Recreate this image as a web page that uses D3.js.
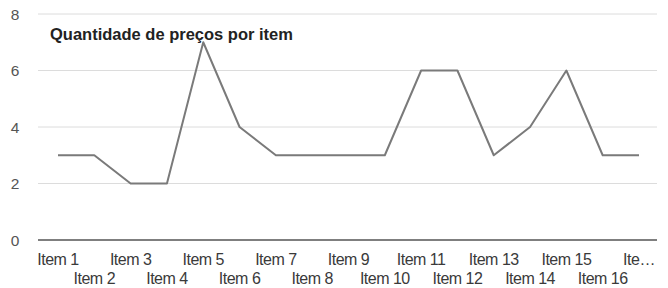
<!DOCTYPE html>
<html>
<head>
<meta charset="utf-8">
<script src="https://cdn.jsdelivr.net/npm/d3@7"></script>
<style>
  body { margin: 0; background: #fff; }
  text { font-family: "Liberation Sans", Arial, sans-serif; }
</style>
</head>
<body>
<script>
//chart data
var items = ["Item 1", "Item 2", "Item 3", "Item 4", "Item 5", "Item 6", "Item 7", "Item 8",
    "Item 9", "Item 10", "Item 11", "Item 12", "Item 13", "Item 14", "Item 15", "Item 16", "Item 17"];
var precos = [3, 3, 2, 2, 7, 4, 3, 3, 3, 3, 6, 6, 3, 4, 6, 3, 3];
var yTicks = [0, 2, 4, 6, 8];
var title = "Quantidade de preços por item";

//frame
var width = 668,
    height = 288;

var svg = d3.select("body")
    .append("svg")
    .attr("width", width)
    .attr("height", height);

var x = d3.scalePoint()
    .domain(items)
    .range([58, 639]);

var y = d3.scaleLinear()
    .domain([0, 8])
    .range([240, 14]);

//gridlines
svg.selectAll(".grid")
    .data(yTicks.filter(function(d){ return d > 0; }))
    .enter()
    .append("line")
    .attr("class", "grid")
    .attr("x1", 38)
    .attr("x2", 657)
    .attr("y1", function(d){ return y(d); })
    .attr("y2", function(d){ return y(d); })
    .attr("stroke", "#dcdcdc")
    .attr("stroke-width", 1);

//baseline
svg.append("line")
    .attr("x1", 38)
    .attr("x2", 657)
    .attr("y1", y(0))
    .attr("y2", y(0))
    .attr("stroke", "#555")
    .attr("stroke-width", 1.5);

//y labels
svg.selectAll(".ylab")
    .data(yTicks)
    .enter()
    .append("text")
    .attr("class", "ylab")
    .attr("x", 15)
    .attr("y", function(d){ return y(d) + 5.5; })
    .attr("text-anchor", "middle")
    .attr("font-size", 15.5)
    .attr("fill", "#555")
    .text(function(d){ return d; });

//x labels, staggered on two rows
svg.selectAll(".xlab")
    .data(items)
    .enter()
    .append("text")
    .attr("class", "xlab")
    .attr("x", function(d){ return x(d); })
    .attr("y", function(d, i){ return i % 2 == 0 ? 265 : 284; })
    .attr("text-anchor", "middle")
    .attr("font-size", 16)
    .attr("letter-spacing", -0.5)
    .attr("fill", "#3a3a3a")
    .text(function(d, i){ return i == items.length - 1 ? "Ite…" : d; });

//line
var line = d3.line()
    .x(function(d, i){ return x(items[i]); })
    .y(function(d){ return y(d); });

svg.append("path")
    .datum(precos)
    .attr("d", line)
    .attr("fill", "none")
    .attr("stroke", "#7a7a7a")
    .attr("stroke-width", 2)
    .attr("stroke-linejoin", "round");

//title
svg.append("text")
    .attr("x", 50)
    .attr("y", 40)
    .attr("font-size", 16.5)
    .attr("font-weight", "bold")
    .attr("fill", "#222")
    .text(title);
</script>
</body>
</html>
